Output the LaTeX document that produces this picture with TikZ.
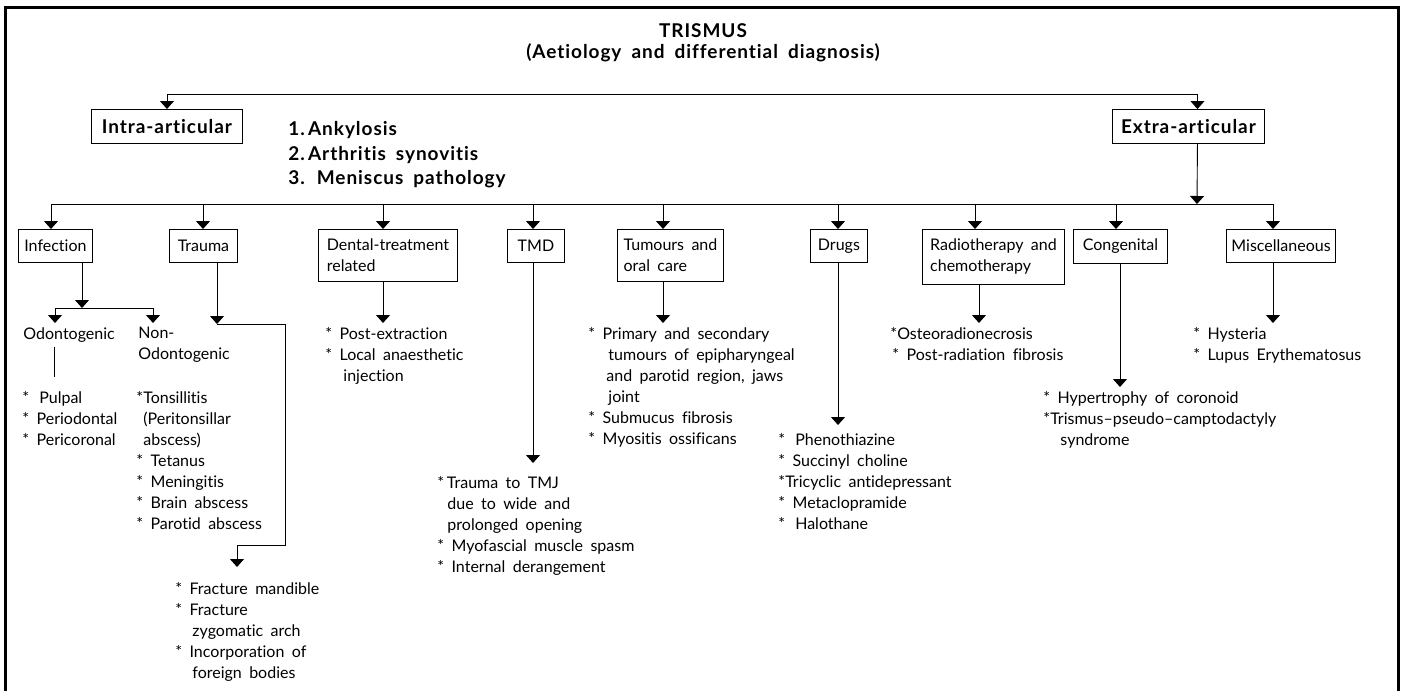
\documentclass[tikz,border=0pt]{standalone}
\usepackage{fontspec}
\setmainfont{Lato}[WordSpace=1.8, Ligatures=NoCommon]
\newfontfamily\heavyfam{Lato}[LetterSpace=5, WordSpace=1.8, Ligatures=NoCommon]
\usetikzlibrary{arrows.meta}

\begin{document}
\begin{tikzpicture}[x=1pt, y=-1pt, line width=0.9pt,
    every node/.style={inner sep=0pt, font=\fontsize{16}{21}\selectfont},
    arr/.style={-{Triangle[width=14pt,length=8pt]}},
    heavy/.style={font=\heavyfam\bfseries\fontsize{19}{21}\selectfont},
    headbox/.style={draw, anchor=north west, inner xsep=6pt, minimum height=34pt, heavy},
    catbox/.style={draw, anchor=north west, align=left, inner xsep=5pt, inner ysep=9.5pt, minimum height=33pt},
    items/.style={anchor=north west, align=left, inner ysep=4pt}]
	\useasboundingbox (0,0) rectangle (1402,691);
	\draw[line width=3pt] (5,691) -- (5,7) -- (1398,7) -- (1398,691);

	% title and the two main groups
	\node[heavy, align=center] (title) at (703,43) {TRISMUS\\(Aetiology and differential diagnosis)};
	\node[headbox, minimum width=151pt] (intra) at (91,109) {Intra-articular};
	\node[headbox, minimum width=152pt] (extra) at (1112,109) {Extra-articular};
	\node[anchor=north west, align=left, font=\heavyfam\bfseries\fontsize{19}{24.5}\selectfont] (intralist) at (288,121) {1.\,Ankylosis\\2.\,Arthritis synovitis\\3. Meniscus pathology};
	\coordinate (topbar) at (680,94);
	\draw[arr] (topbar) -| (intra.north);
	\draw[arr] (topbar) -| ([xshift=9pt]extra.north);

	% extra-articular causes
	\coordinate (busR) at (1197,204);
	\draw[arr] ([xshift=9pt]extra.south) -- (busR);
	\draw (51,204) -- (1273,204);
	\node[catbox, minimum width=74pt] (infection) at (18,229) {Infection};
	\node[catbox, minimum width=68pt] (trauma) at (169,229) {Trauma};
	\node[catbox, minimum width=139pt] (dental) at (318,229) {Dental-treatment\\related};
	\node[catbox, minimum width=57pt] (tmd) at (507,229) {TMD};
	\node[catbox, minimum width=106pt] (tumours) at (617,229) {Tumours and\\oral care};
	\node[catbox, minimum width=57pt] (drugs) at (810,229) {Drugs};
	\node[catbox, minimum width=142pt] (radio) at (922,229) {Radiotherapy and\\chemotherapy};
	\node[catbox, minimum width=94pt] (congenital) at (1073,229) {Congenital};
	\node[catbox, minimum width=107pt] (misc) at (1226,229) {Miscellaneous};
	\foreach \x/\n in {51/infection, 203/trauma, 383/dental, 533/tmd, 663/tumours, 838/drugs, 975/radio, 1116/congenital, 1273/misc}
		\draw[arr] (\x,204) -- (\x,204 |- \n.north);

	% infection
	\coordinate (ibar) at (82,308);
	\draw[arr] (82,0 |- infection.south) -- (ibar);
	\node[items] (odonto) at (23,323) {Odontogenic};
	\node[items] (nonodonto) at (138,323) {Non-\\Odontogenic};
	\draw[arr] (ibar) -| (55,0 |- odonto.north);
	\draw[arr] (ibar) -| (153,0 |- nonodonto.north);
	\node[items] (pulpal) at (22,387) {*\ \,Pulpal\\* Periodontal\\* Pericoronal};
	\draw[shorten >=10pt] (54,0 |- odonto.south) -- (54,0 |- pulpal.north);
	\node[items] (nonlist) at (136,387) {*Tonsillitis\\\hspace*{7pt}(Peritonsillar\\\hspace*{7pt}abscess)\\* Tetanus\\* Meningitis\\* Brain abscess\\* Parotid abscess};

	% trauma
	\coordinate (tbend) at (217,324);
	\draw[arr] (217,0 |- trauma.south) -- (tbend);
	\node[items] (fraclist) at (175,578) {* Fracture mandible\\* Fracture\\\hspace*{17pt}zygomatic arch\\* Incorporation of\\\hspace*{17pt}foreign bodies};
	\draw[arr, shorten >=11pt] (tbend) -- (285,324) -- (285,545) -| (237,0 |- fraclist.north);

	% the other groups
	\node[items] (dentlist) at (325,323) {* Post-extraction\\* Local anaesthetic\\\hspace*{18pt}injection};
	\draw[arr] (383,0 |- dental.south) -- (383,0 |- dentlist.north);
	\node[items] (tmdlist) at (437,472) {*\,Trauma to TMJ\\\hspace*{10pt}due to wide and\\\hspace*{10pt}prolonged opening\\* Myofascial muscle spasm\\* Internal derangement};
	\draw[arr, shorten >=9pt] (533,0 |- tmd.south) -- (533,0 |- tmdlist.north);
	\node[items] (tumlist) at (588,323) {* Primary and secondary\\\hspace*{20pt}tumours of epipharyngeal\\\hspace*{18pt}and parotid region, jaws\\\hspace*{20pt}joint\\* Submucus fibrosis\\* Myositis ossificans};
	\draw[arr] (663,0 |- tumours.south) -- (663,0 |- tumlist.north);
	\node[items] (druglist) at (778,429) {*\ \,Phenothiazine\\* Succinyl choline\\*Tricyclic antidepressant\\* Metaclopramide\\*\ \,Halothane};
	\draw[arr, shorten >=4pt] (838,0 |- drugs.south) -- (838,0 |- druglist.north);
	\node[items] (radlist) at (890,323) {*Osteoradionecrosis\\\hspace*{2pt}* Post-radiation fibrosis};
	\draw[arr] (979,0 |- radio.south) -- (979,0 |- radlist.north);
	\node[items] (conglist) at (1043,387) {* Hypertrophy of coronoid\\*Trismus–pseudo–camptodactyly\\\hspace*{17pt}syndrome};
	\draw[arr] (1120,0 |- congenital.south) -- (1120,0 |- conglist.north);
	\node[items] (misclist) at (1193,323) {* Hysteria\\* Lupus Erythematosus};
	\draw[arr] (1273,0 |- misc.south) -- (1273,0 |- misclist.north);
\end{tikzpicture}
\end{document}
